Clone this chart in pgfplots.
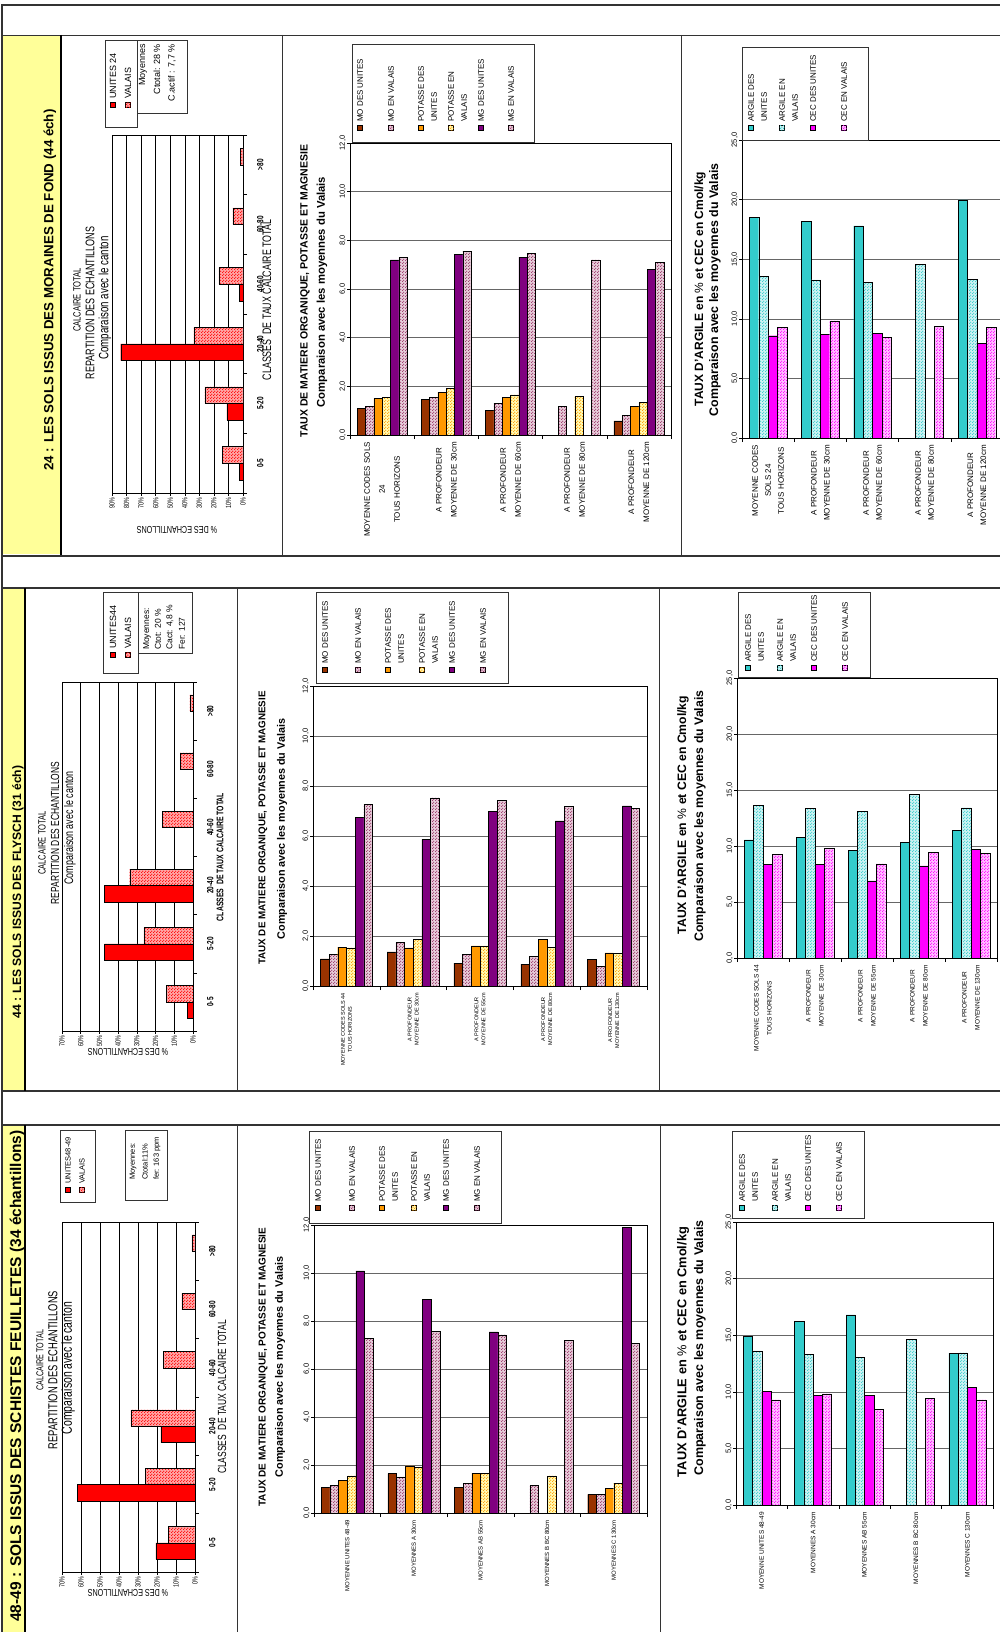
\documentclass[border=0pt]{standalone}
\usepackage{pgfplots}
\pgfplotsset{compat=1.18}
\usepackage{pgfplotstable}
\usetikzlibrary{patterns}
\usepackage{fontspec}
\setmainfont{Liberation Sans}
\newfontfamily\nar[FakeStretch=0.72]{Liberation Sans}

\definecolor{yel}{HTML}{FFFF99}
\definecolor{dk}{HTML}{333333}
\definecolor{mobrown}{HTML}{993300}
\definecolor{mauve}{HTML}{993366}
\definecolor{potor}{HTML}{FF9900}
\definecolor{mgpur}{HTML}{800080}
\definecolor{argteal}{HTML}{33CCCC}
\definecolor{cecmag}{HTML}{FF00FF}
\definecolor{xred}{HTML}{FF0000}

\pgfdeclarepatternformonly{xdots}{\pgfqpoint{0pt}{0pt}}{\pgfqpoint{3pt}{3pt}}{\pgfqpoint{3pt}{3pt}}{%
  \pgfpathcircle{\pgfqpoint{0.75pt}{0.75pt}}{0.8pt}%
  \pgfpathcircle{\pgfqpoint{2.25pt}{2.25pt}}{0.8pt}%
  \pgfusepath{fill}}

\newcommand{\fs}[2]{\fontsize{#1}{#2}\selectfont}

\tikzset{
  bx/.style={draw=black, line width=0.4pt},
  dots/.style={postaction={pattern=xdots, pattern color=#1}},
  sU/.style={bx, fill=xred},
  sV/.style={bx, fill=xred!35, dots=xred},
  sMOu/.style={bx, fill=mobrown},
  sMOv/.style={bx, fill=mauve!25, dots=mauve},
  sKu/.style={bx, fill=potor},
  sKv/.style={bx, fill=yellow!30, dots=potor},
  sMGu/.style={bx, fill=mgpur},
  sMGv/.style={bx, fill=mauve!25, dots=mauve},
  sAu/.style={bx, fill=argteal},
  sAv/.style={bx, fill=argteal!25, dots=argteal},
  sCu/.style={bx, fill=cecmag},
  sCv/.style={bx, fill=cecmag!25, dots=cecmag},
}

\pgfplotsset{
  base/.style={scale only axis, anchor=south west,
    /pgf/number format/assume math mode=true,
    axis line style={black, line width=0.6pt},
    tick style={black, line width=0.5pt},
    major tick length=3pt, minor tick length=4pt,
    tick align=outside},
  chB/.style={base, ybar=0pt, xmin=-0.5, xmax=4.5, ymin=0,
    xtick={0,1,2,3,4}, minor xtick={-0.5,0.5,1.5,2.5,3.5,4.5},
    major x tick style={draw=none},
    xtick pos=left, ytick pos=left,
    ymajorgrids, major grid style={black!60, line width=0.6pt},
    yticklabel style={rotate=90, anchor=south, inner sep=1pt, font=\fs{7.5}{9},
      /pgf/number format/fixed, /pgf/number format/fixed zerofill,
      /pgf/number format/precision=1, /pgf/number format/use comma},
    xticklabel style={yshift=-4pt, rotate=90, anchor=east, inner sep=0pt, align=center}},
  chK/.style={chB, bar width=0.13, ymax=12, ytick={0,2,...,12}},
  chA/.style={chB, bar width=0.18, ymax=25, ytick={0,5,...,25}},
  chC/.style={base, xbar=0pt, bar width=0.28, ymin=-0.5, ymax=5.5, xmax=0,
    ytick={0,...,5}, minor ytick={-0.5,0.5,...,5.5}, major y tick style={draw=none},
    ytick pos=right, yticklabel pos=right, xtick pos=left,
    yticklabels={0-5,5-20,20-40,40-60,60-80,>80},
    yticklabel style={xshift=11pt, rotate=90, anchor=north, inner sep=0pt, font=\nar\bfseries\fs{9}{10}},
    xmajorgrids, major grid style={black, line width=0.5pt},
    xticklabel style={rotate=90, anchor=east, inner sep=1pt, font=\nar\fs{7.5}{8}}},
}

% calcaire: Valais distribution and units
\pgfplotstableread{
c v
0 14.1
1 26.2
2 33.8
3 16.5
4 6.9
5 1.7
}\tVal
\pgfplotstableread{
c u
0 2.5
1 11
2 84
3 2.5
}\tUa
\pgfplotstableread{
c u
0 2.9
1 47.4
2 47.4
}\tUb
\pgfplotstableread{
c u
0 20.6
1 62.1
2 17.9
}\tUc

% MO, potasse, MG
\pgfplotstableread{
g MOu MOv Ku Kv MGu MGv
0 1.10 1.19 1.51 1.54 7.20 7.30
1 1.47 1.55 1.76 1.92 7.42 7.56
2 1.00 1.30 1.54 1.65 7.31 7.46
3 nan 1.19 nan 1.58 nan 7.20
4 0.58 0.80 1.17 1.34 6.82 7.09
}\tKa
\pgfplotstableread{
g MOu MOv Ku Kv MGu MGv
0 1.09 1.27 1.56 1.53 6.76 7.28
1 1.37 1.75 1.53 1.88 5.87 7.53
2 0.92 1.28 1.61 1.61 6.99 7.44
3 0.88 1.20 1.88 1.55 6.61 7.19
4 1.08 0.79 1.33 1.32 7.21 7.11
}\tKb
\pgfplotstableread{
g MOu MOv Ku Kv MGu MGv
0 1.07 1.15 1.36 1.55 10.09 7.28
1 1.64 1.51 1.96 1.90 8.89 7.56
2 1.07 1.23 1.66 1.64 7.55 7.42
3 nan 1.14 nan 1.55 nan 7.19
4 0.78 0.78 1.03 1.25 11.89 7.08
}\tKc

% argile, CEC
\pgfplotstableread{
g Au Av Cu Cv
0 18.50 13.55 8.58 9.27
1 18.16 13.27 8.72 9.83
2 17.80 13.04 8.80 8.44
3 nan 14.55 nan 9.36
4 19.97 13.32 7.96 9.27
}\tAa
\pgfplotstableread{
g Au Av Cu Cv
0 10.54 13.60 8.37 9.26
1 10.75 13.36 8.37 9.80
2 9.59 13.12 6.89 8.40
3 10.30 14.64 8.22 9.41
4 11.40 13.42 9.71 9.32
}\tAb
\pgfplotstableread{
g Au Av Cu Cv
0 14.89 13.62 10.02 9.29
1 16.21 13.33 9.67 9.82
2 16.80 13.06 9.67 8.46
3 nan 14.65 nan 9.43
4 13.41 13.44 10.38 9.29
}\tAc

\newcommand{\rt}[4]{\node[rotate=90, inner sep=0pt, font=#3] at (#1pt,-#2pt) {#4};}
\newcommand{\lsq}[3]{\draw[#3] (#1pt,-#2pt) ++(-2.6pt,-2.6pt) rectangle ++(5.2pt,5.2pt);}
\newcommand{\ltx}[3]{\node[rotate=90, anchor=west, inner sep=0pt, font=\fs{8}{8}] at (#1pt,-#2pt) {#3};}
\newcommand{\lbox}[4]{\draw[black!80, line width=0.6pt, fill=white] (#1pt,-#2pt) rectangle (#3pt,-#4pt);}
\newcommand{\legK}[8]{%
  \lsq{#1}{#7}{sMOu}\ltx{#1}{#8}{MO DES UNITES}
  \lsq{#2}{#7}{sMOv}\ltx{#2}{#8}{MO EN VALAIS}
  \lsq{#3}{#7}{sKu}\ltx{#3}{#8}{POTASSE DES}\ltx{#3+13}{#8}{UNITES}
  \lsq{#4}{#7}{sKv}\ltx{#4}{#8}{POTASSE EN}\ltx{#4+13}{#8}{VALAIS}
  \lsq{#5}{#7}{sMGu}\ltx{#5}{#8}{MG DES UNITES}
  \lsq{#6}{#7}{sMGv}\ltx{#6}{#8}{MG EN VALAIS}}
\newcommand{\legA}[6]{%
  \lsq{#1}{#5}{sAu}\ltx{#1}{#6}{ARGILE DES}\ltx{#1+13}{#6}{UNITES}
  \lsq{#2}{#5}{sAv}\ltx{#2}{#6}{ARGILE EN}\ltx{#2+13}{#6}{VALAIS}
  \lsq{#3}{#5}{sCu}\ltx{#3}{#6}{CEC DES UNITES}
  \lsq{#4}{#5}{sCv}\ltx{#4}{#6}{CEC EN VALAIS}}

\begin{document}
\begin{tikzpicture}
\useasboundingbox (0,0) rectangle (1000pt,-1632pt);
\fill[white] (0,0) rectangle (1000pt,-1632pt);
\fill[yel] (3pt,-36pt) rectangle (61pt,-554pt);
\fill[yel] (3pt,-589pt) rectangle (25pt,-1090pt);
\fill[yel] (3pt,-1126pt) rectangle (25pt,-1632pt);
\draw[dk, line width=2pt] (2pt,-1632pt) -- (2pt,-5pt) -- (1000pt,-5pt);
\draw[dk, line width=0.8pt] (2pt,-35pt) -- (1000pt,-35pt);
\draw[dk, line width=2pt] (2pt,-555.5pt) -- (1000pt,-555.5pt);
\draw[dk, line width=1.5pt] (2pt,-588pt) -- (1000pt,-588pt);
\draw[dk, line width=2pt] (2pt,-1091pt) -- (1000pt,-1091pt);
\draw[dk, line width=1.5pt] (2pt,-1125pt) -- (1000pt,-1125pt);
\draw[black, line width=1.5pt] (61pt,-35pt) -- (61pt,-555pt);
\draw[dk, line width=0.8pt] (282pt,-35pt) -- (282pt,-555pt) (681pt,-35pt) -- (681pt,-555pt);
\draw[black, line width=1.5pt] (25pt,-588pt) -- (25pt,-1091pt) (25pt,-1125pt) -- (25pt,-1632pt);
\draw[dk, line width=0.8pt] (237pt,-588pt) -- (237pt,-1091pt) (659pt,-588pt) -- (659pt,-1091pt)
  (237pt,-1125pt) -- (237pt,-1632pt) (660pt,-1125pt) -- (660pt,-1632pt);

% ---------------- row 1 : 24 ----------------
\rt{50}{290}{\bfseries\fs{13.3}{15}}{24 : LES SOLS ISSUS DES MORAINES DE FOND (44 éch)}

\begin{axis}[chC, at={(112pt,-493pt)}, width=131pt, height=358pt, xmin=-90,
  xtick={-90,-80,...,0}, xticklabels={90\%,80\%,70\%,60\%,50\%,40\%,30\%,20\%,10\%,0\%}]
\addplot[sU, bar shift=-0.14] table[x expr=-\thisrow{u}, y=c]{\tUa};
\addplot[sV, bar shift=0.14] table[x expr=-\thisrow{v}, y=c]{\tVal};
\end{axis}
\rt{77}{300}{\nar\fs{10.5}{12}}{CALCAIRE TOTAL}
\rt{90}{303}{\nar\fs{12.5}{14}}{REPARTITION DES ECHANTILLONS}
\rt{105}{298}{\nar\fs{13.5}{15}}{Comparaison avec le canton}
\rt{267}{300}{\nar\fs{12.3}{14}}{CLASSES \ DE TAUX CALCAIRE TOTAL}
\node[rotate=180, inner sep=0pt, font=\nar\fs{10}{11}] at (177pt,-530pt) {\% DES ECHANTILLONS};
\lbox{105}{40}{137}{127}
\lsq{113}{105}{sU}\node[rotate=90, anchor=west, inner sep=0pt, font=\fs{9}{9}] at (113pt,-99pt) {UNITES 24};
\lsq{128}{105}{sV}\node[rotate=90, anchor=west, inner sep=0pt, font=\fs{9}{9}] at (128pt,-99pt) {VALAIS};
\lbox{137}{40}{187}{113}
\node[rotate=90, anchor=east, inner sep=0pt, font=\fs{9}{9}] at (143pt,-44pt) {Moyennes};
\node[rotate=90, anchor=east, inner sep=0pt, font=\fs{9}{9}] at (157pt,-44pt) {Ctotal: 28 \%};
\node[rotate=90, anchor=east, inner sep=0pt, font=\fs{9}{9}] at (172pt,-44pt) {C.actif : 7,7 \%};

\begin{axis}[chK, at={(350pt,-435pt)}, width=321pt, height=292pt,
  xticklabels={{MOYENNE CODES SOLS\\24\\TOUS HORIZONS},{A PROFONDEUR\\MOYENNE DE 30cm},{A PROFONDEUR\\MOYENNE DE 60cm},{A PROFONDEUR\\MOYENNE DE 80cm},{A PROFONDEUR\\MOYENNE DE 120cm}},
  xticklabel style={font=\fs{8}{15}}]
\addplot[sMOu] table[x=g, y=MOu]{\tKa};
\addplot[sMOv] table[x=g, y=MOv]{\tKa};
\addplot[sKu] table[x=g, y=Ku]{\tKa};
\addplot[sKv] table[x=g, y=Kv]{\tKa};
\addplot[sMGu] table[x=g, y=MGu]{\tKa};
\addplot[sMGv] table[x=g, y=MGv]{\tKa};
\end{axis}
\rt{305}{291}{\bfseries\fs{10.5}{12}}{TAUX DE MATIERE ORGANIQUE, POTASSE ET MAGNESIE}
\rt{322}{292}{\bfseries\fs{11.3}{13}}{Comparaison avec les moyennes du Valais}
\lbox{352}{44}{534}{142}
\legK{360}{391}{421}{451}{481}{511}{128}{122}

\begin{axis}[chA, at={(742pt,-438pt)}, width=261pt, height=298pt,
  xticklabels={{MOYENNE CODES\\SOLS 24\\TOUS HORIZONS},{A PROFONDEUR\\MOYENNE DE 30cm},{A PROFONDEUR\\MOYENNE DE 60cm},{A PROFONDEUR\\MOYENNE DE 80cm},{A PROFONDEUR\\MOYENNE DE 120cm}},
  xticklabel style={font=\fs{8}{13}}]
\addplot[sAu] table[x=g, y=Au]{\tAa};
\addplot[sAv] table[x=g, y=Av]{\tAa};
\addplot[sCu] table[x=g, y=Cu]{\tAa};
\addplot[sCv] table[x=g, y=Cv]{\tAa};
\end{axis}
\rt{700}{289}{\bfseries\fs{12}{13}}{TAUX D'ARGILE en {\mdseries\%} et CEC en Cmol/kg}
\rt{715}{290}{\bfseries\fs{12.4}{14}}{Comparaison avec les moyennes du Valais}
\lbox{742}{47}{868}{140}
\legA{751}{782}{813}{844}{128}{122}

% ---------------- row 2 : 44 ----------------
\rt{18}{892}{\bfseries\fs{12.1}{14}}{44 : LES SOLS ISSUS DES FLYSCH (31 éch)}

\begin{axis}[chC, at={(62pt,-1031pt)}, width=131pt, height=349pt, xmin=-70,
  xtick={-70,-60,...,0}, xticklabels={70\%,60\%,50\%,40\%,30\%,20\%,10\%,0\%}]
\addplot[sU, bar shift=-0.14] table[x expr=-\thisrow{u}, y=c]{\tUb};
\addplot[sV, bar shift=0.14] table[x expr=-\thisrow{v}, y=c]{\tVal};
\end{axis}
\rt{42}{843}{\nar\fs{10.5}{12}}{CALCAIRE TOTAL}
\rt{55}{833}{\nar\fs{11.7}{13}}{REPARTITION DES ECHANTILLONS}
\rt{70}{828}{\nar\fs{12.4}{14}}{Comparaison avec le canton}
\rt{220}{857}{\nar\bfseries\fs{9.6}{11}}{CLASSES \ DE TAUX CALCAIRE TOTAL}
\node[rotate=180, inner sep=0pt, font=\nar\fs{10}{11}] at (128pt,-1052pt) {\% DES ECHANTILLONS};
\lbox{103}{592}{138}{673}
\lsq{113}{655}{sU}\node[rotate=90, anchor=west, inner sep=0pt, font=\fs{9}{9}] at (113pt,-649pt) {UNITES44};
\lsq{128}{655}{sV}\node[rotate=90, anchor=west, inner sep=0pt, font=\fs{9}{9}] at (128pt,-649pt) {VALAIS};
\lbox{138}{592}{192}{653}
\node[rotate=90, anchor=west, inner sep=0pt, font=\fs{8.5}{9}] at (147pt,-650pt) {Moyennes:};
\node[rotate=90, anchor=west, inner sep=0pt, font=\fs{8.5}{9}] at (158pt,-650pt) {Ctot: 20 \%};
\node[rotate=90, anchor=west, inner sep=0pt, font=\fs{8.5}{9}] at (170pt,-650pt) {Cact: 4,8 \%};
\node[rotate=90, anchor=west, inner sep=0pt, font=\fs{8.5}{9}] at (182pt,-650pt) {Fer: 127};

\begin{axis}[chK, at={(313pt,-986pt)}, width=334pt, height=300pt,
  xticklabels={{MOYENNE CODES SOLS 44\\TOUS HORIZONS},{A PROFONDEUR\\MOYENNE DE 30cm},{A PROFONDEUR\\MOYENNE DE 55cm},{A PROFONDEUR\\MOYENNE DE 80cm},{A PROFONDEUR\\MOYENNE DE 130cm}},
  xticklabel style={font=\fs{5.5}{7}}]
\addplot[sMOu] table[x=g, y=MOu]{\tKb};
\addplot[sMOv] table[x=g, y=MOv]{\tKb};
\addplot[sKu] table[x=g, y=Ku]{\tKb};
\addplot[sKv] table[x=g, y=Kv]{\tKb};
\addplot[sMGu] table[x=g, y=MGu]{\tKb};
\addplot[sMGv] table[x=g, y=MGv]{\tKb};
\end{axis}
\rt{263}{828}{\bfseries\fs{9.8}{12}}{TAUX DE MATIERE ORGANIQUE, POTASSE ET MAGNESIE}
\rt{282}{829}{\bfseries\fs{10.8}{13}}{Comparaison avec les moyennes du Valais}
\lbox{316}{592}{508}{683}
\legK{325}{358}{388}{422}{452}{483}{670}{664}

\begin{axis}[chA, at={(737pt,-958pt)}, width=260pt, height=280pt,
  xticklabels={{MOYENNE CODES SOLS 44\\TOUS HORIZONS},{A PROFONDEUR\\MOYENNE DE 30cm},{A PROFONDEUR\\MOYENNE DE 55cm},{A PROFONDEUR\\MOYENNE DE 80cm},{A PROFONDEUR\\MOYENNE DE 130cm}},
  xticklabel style={font=\fs{6.5}{13}}]
\addplot[sAu] table[x=g, y=Au]{\tAb};
\addplot[sAv] table[x=g, y=Av]{\tAb};
\addplot[sCu] table[x=g, y=Cu]{\tAb};
\addplot[sCv] table[x=g, y=Cv]{\tAb};
\end{axis}
\rt{683}{815}{\bfseries\fs{12.2}{13}}{TAUX D'ARGILE en {\mdseries\%} et CEC en Cmol/kg}
\rt{700}{816}{\bfseries\fs{12.3}{14}}{Comparaison avec les moyennes du Valais}
\lbox{738}{592}{870}{677}
\legA{748}{780}{814}{845}{668}{662}

% ---------------- row 3 : 48-49 ----------------
\rt{17}{1376}{\bfseries\fs{15.5}{17}}{48-49 : SOLS ISSUS DES SCHISTES FEUILLETES (34 échantillons)}

\begin{axis}[chC, at={(62pt,-1572pt)}, width=133pt, height=350pt, xmin=-70,
  xtick={-70,-60,...,0}, xticklabels={70\%,60\%,50\%,40\%,30\%,20\%,10\%,0\%}]
\addplot[sU, bar shift=-0.14] table[x expr=-\thisrow{u}, y=c]{\tUc};
\addplot[sV, bar shift=0.14] table[x expr=-\thisrow{v}, y=c]{\tVal};
\end{axis}
\rt{40}{1360}{\nar\fs{10}{12}}{CALCAIRE TOTAL}
\rt{53}{1370}{\nar\fs{13}{14}}{REPARTITION DES ECHANTILLONS}
\rt{68}{1368}{\nar\fs{14.5}{15}}{Comparaison avec le canton}
\rt{222}{1397}{\nar\fs{11.8}{13}}{CLASSES \ DE TAUX CALCAIRE TOTAL}
\node[rotate=180, inner sep=0pt, font=\nar\fs{10}{11}] at (128pt,-1593pt) {\% DES ECHANTILLONS};
\lbox{60}{1130}{95}{1202}
\lsq{68}{1190}{sU}\node[rotate=90, anchor=west, inner sep=0pt, font=\fs{7.5}{8}] at (68pt,-1184pt) {UNITES48-49};
\lsq{82}{1190}{sV}\node[rotate=90, anchor=west, inner sep=0pt, font=\fs{7.5}{8}] at (82pt,-1184pt) {VALAIS};
\lbox{125}{1130}{167}{1200}
\node[rotate=90, anchor=west, inner sep=0pt, font=\fs{7.5}{8}] at (133pt,-1180pt) {Moyennes:};
\node[rotate=90, anchor=west, inner sep=0pt, font=\fs{7.5}{8}] at (145pt,-1180pt) {Ctotal:11\%};
\node[rotate=90, anchor=west, inner sep=0pt, font=\fs{7.5}{8}] at (157pt,-1180pt) {fer: 163 ppm};

\begin{axis}[chK, at={(314pt,-1513pt)}, width=333pt, height=288pt,
  xticklabels={MOYENNE UNITES 48-49,MOYENNES A 30cm,MOYENNES AB 55cm,MOYENNES B BC 80cm,MOYENNES C 130cm},
  xticklabel style={font=\fs{6}{7}}]
\addplot[sMOu] table[x=g, y=MOu]{\tKc};
\addplot[sMOv] table[x=g, y=MOv]{\tKc};
\addplot[sKu] table[x=g, y=Ku]{\tKc};
\addplot[sKv] table[x=g, y=Kv]{\tKc};
\addplot[sMGu] table[x=g, y=MGu]{\tKc};
\addplot[sMGv] table[x=g, y=MGv]{\tKc};
\end{axis}
\rt{263}{1367}{\bfseries\fs{10}{12}}{TAUX DE MATIERE ORGANIQUE, POTASSE ET MAGNESIE}
\rt{280}{1367}{\bfseries\fs{10.8}{13}}{Comparaison avec les moyennes du Valais}
\lbox{309}{1131}{501}{1223}
\legK{318}{352}{382}{414}{446}{477}{1208}{1202}

\begin{axis}[chA, at={(736pt,-1505pt)}, width=257pt, height=283pt,
  xticklabels={MOYENNE UNITES 48-49,MOYENNES A 30cm,MOYENNES AB 55cm,MOYENNES B BC 80cm,MOYENNES C 130cm},
  xticklabel style={font=\fs{6.5}{8}}]
\addplot[sAu] table[x=g, y=Au]{\tAc};
\addplot[sAv] table[x=g, y=Av]{\tAc};
\addplot[sCu] table[x=g, y=Cu]{\tAc};
\addplot[sCv] table[x=g, y=Cv]{\tAc};
\end{axis}
\rt{683}{1352}{\bfseries\fs{12.8}{14}}{TAUX D'ARGILE en {\mdseries\%} et CEC en Cmol/kg}
\rt{700}{1348}{\bfseries\fs{12.5}{14}}{Comparaison avec les moyennes du Valais}
\lbox{732}{1131}{864}{1218}
\legA{742}{775}{808}{839}{1208}{1202}
\end{tikzpicture}
\end{document}
